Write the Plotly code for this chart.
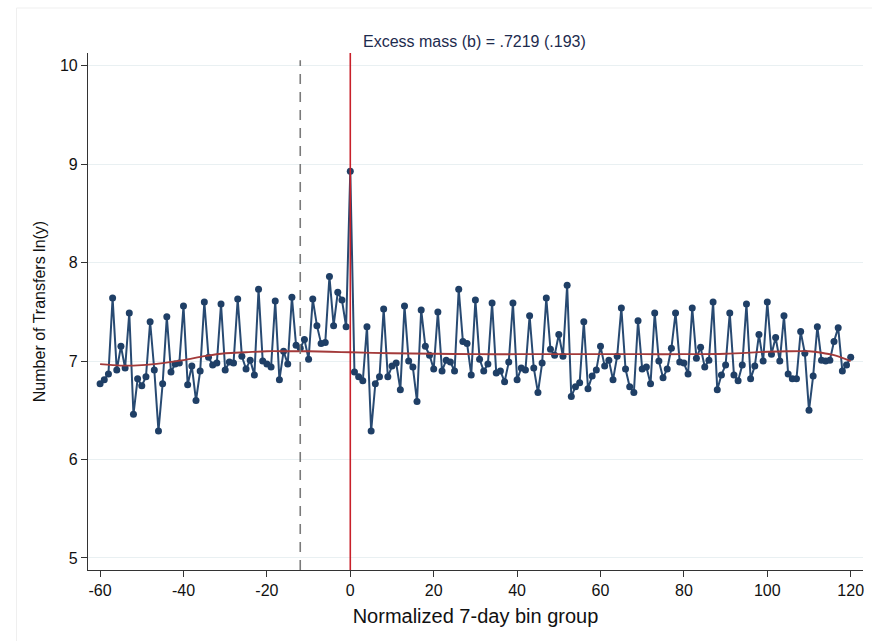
import plotly.graph_objects as go

# Normalized 7-day bin groups and log number of transfers per bin
bins = list(range(-60, 121))
ln_transfers = [
    # -60 .. -31
    6.77, 6.81, 6.87, 7.64, 6.91, 7.15, 6.93, 7.49, 6.46, 6.82,
    6.75, 6.84, 7.40, 6.91, 6.29, 6.77, 7.45, 6.89, 6.97, 6.98,
    7.56, 6.76, 6.95, 6.60, 6.90, 7.60, 7.04, 6.96, 6.98, 7.58,
    # -30 .. -1
    6.91, 6.99, 6.98, 7.63, 7.05, 6.92, 7.01, 6.86, 7.73, 7.00,
    6.97, 6.94, 7.61, 6.81, 7.10, 6.97, 7.65, 7.16, 7.13, 7.22,
    7.02, 7.63, 7.36, 7.18, 7.19, 7.86, 7.36, 7.70, 7.62, 7.35,
    # 0 .. 30
    8.93, 6.89, 6.84, 6.80, 7.35, 6.29, 6.77, 6.84, 7.53, 6.84,
    6.95, 6.98, 6.71, 7.56, 7.00, 6.94, 6.59, 7.52, 7.15, 7.06,
    6.92, 7.50, 6.90, 7.01, 6.99, 6.90, 7.73, 7.20, 7.18, 6.86,
    7.62,
    # 31 .. 60
    7.02, 6.90, 6.97, 7.59, 6.88, 6.90, 6.79, 6.99, 7.59, 6.81,
    6.93, 6.91, 7.46, 6.93, 6.68, 6.98, 7.64, 7.12, 7.06, 7.27,
    7.05, 7.77, 6.64, 6.74, 6.78, 7.40, 6.72, 6.85, 6.91, 7.15,
    # 61 .. 90
    6.95, 7.01, 6.81, 7.05, 7.54, 6.92, 6.74, 6.68, 7.41, 6.92,
    6.94, 6.77, 7.49, 7.00, 6.83, 6.92, 7.13, 7.49, 6.99, 6.98,
    6.87, 7.54, 7.03, 7.14, 6.94, 7.01, 7.60, 6.71, 6.86, 6.96,
    # 91 .. 120
    7.49, 6.86, 6.80, 6.96, 7.58, 6.82, 6.95, 7.27, 7.00, 7.60,
    7.07, 7.24, 7.00, 7.46, 6.87, 6.82, 6.82, 7.30, 7.08, 6.50,
    6.85, 7.35, 7.01, 7.00, 7.01, 7.20, 7.34, 6.90, 6.96, 7.04,
]

# Fitted counterfactual density
fit_bins = [-60, -55, -50, -45, -40, -35, -30, -25, -20, -15, -10, -5, 0,
            10, 20, 30, 40, 50, 60, 70, 80, 90, 100, 105, 110, 113, 116, 120]
fit_vals = [6.97, 6.955, 6.96, 6.98, 7.01, 7.05, 7.08, 7.09, 7.10, 7.10, 7.10, 7.095, 7.09,
            7.08, 7.075, 7.07, 7.07, 7.07, 7.07, 7.07, 7.07, 7.075, 7.095, 7.10, 7.10, 7.085, 7.06, 7.00]

threshold = 0
lower_limit = -12
excess_label = "Excess mass (b) = .7219 (.193)"

x_ticks = list(range(-60, 121, 20))
y_ticks = [5, 6, 7, 8, 9, 10]

FONT = "Liberation Sans, Arial, Helvetica, sans-serif"

fig = go.Figure()

fig.add_trace(go.Scatter(
    x=bins, y=ln_transfers, mode="lines+markers",
    line=dict(color="#284a72", width=2),
    marker=dict(color="#1f3f66", size=7),
    showlegend=False, hoverinfo="x+y",
))

fig.add_trace(go.Scatter(
    x=fit_bins, y=fit_vals, mode="lines",
    line=dict(color="#a33a3a", width=1.8, shape="spline", smoothing=0.8),
    showlegend=False, hoverinfo="skip",
))

# Threshold and lower bound of excluded region
fig.add_shape(type="line", xref="x", yref="paper", x0=threshold, x1=threshold, y0=0, y1=1,
              line=dict(color="#c8202a", width=1.6))
fig.add_shape(type="line", xref="x", yref="paper", x0=lower_limit, x1=lower_limit, y0=0, y1=0.986,
              line=dict(color="#7a7a7a", width=1.6, dash="10px,8px"))

# Light outer frame
fig.add_shape(type="line", xref="paper", yref="paper", x0=-0.0923, x1=1.02, y0=1.0870, y1=1.0870,
              line=dict(color="#efefef", width=1), layer="below")
fig.add_shape(type="line", xref="paper", yref="paper", x0=-0.0923, x1=-0.0923, y0=-0.14, y1=1.0870,
              line=dict(color="#efefef", width=1), layer="below")

fig.add_annotation(
    x=threshold, y=1.0, xref="x", yref="paper", xanchor="left", yanchor="bottom",
    xshift=11, yshift=1, text=excess_label, showarrow=False,
    font=dict(family=FONT, size=16, color="#1d2b4e"),
)

fig.update_xaxes(
    range=[-62.9, 122.95], tickvals=x_ticks, ticktext=[str(v) for v in x_ticks],
    showgrid=False, zeroline=False, showline=True, linecolor="#333333", linewidth=1.2,
    ticks="outside", ticklen=6, tickcolor="#333333", tickwidth=1.2,
    tickfont=dict(family=FONT, size=16, color="#111111"),
    title=dict(text="Normalized 7-day bin group", font=dict(family=FONT, size=20, color="#111111"),
               standoff=10),
)
fig.update_yaxes(
    range=[4.878, 10.13], tickvals=y_ticks, ticktext=[str(v) for v in y_ticks],
    showgrid=True, gridcolor="#e9f0f2", gridwidth=1, zeroline=False,
    showline=True, linecolor="#333333", linewidth=1.2,
    ticks="outside", ticklen=6, tickcolor="#333333", tickwidth=1.2,
    tickfont=dict(family=FONT, size=16, color="#111111"),
    title=dict(text="Number of Transfers ln(y)", font=dict(family=FONT, size=16, color="#111111"),
               standoff=10),
)

fig.update_layout(
    width=872, height=641,
    margin=dict(l=88, r=9, t=53, b=71),
    paper_bgcolor="white", plot_bgcolor="white",
    showlegend=False,
)

fig.write_html("out.html")
